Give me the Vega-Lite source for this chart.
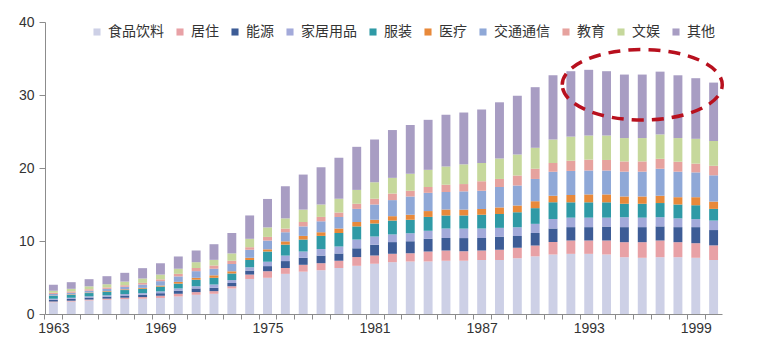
{
  "$schema": "https://vega.github.io/schema/vega-lite/v6.json",
  "width": 677,
  "height": 292,
  "autosize": {"type": "none"},
  "padding": {"left": 45, "top": 22, "right": 38, "bottom": 23},
  "background": "white",
  "config": {"view": {"stroke": null}, "font": "Liberation Sans"},
  "layer": [
    {
      "data": {"values": [
        {"year": 1963, "食品饮料": 1.6, "居住": 0.1, "能源": 0.25, "家居用品": 0.15, "服装": 0.4, "医疗": 0.05, "交通通信": 0.2, "教育": 0.15, "文娱": 0.3, "其他": 0.8},
        {"year": 1964, "食品饮料": 1.7, "居住": 0.12, "能源": 0.25, "家居用品": 0.15, "服装": 0.42, "医疗": 0.06, "交通通信": 0.2, "教育": 0.2, "文娱": 0.35, "其他": 0.91},
        {"year": 1965, "食品饮料": 1.85, "居住": 0.13, "能源": 0.27, "家居用品": 0.17, "服装": 0.45, "医疗": 0.07, "交通通信": 0.25, "教育": 0.2, "文娱": 0.4, "其他": 0.98},
        {"year": 1966, "食品饮料": 1.95, "居住": 0.15, "能源": 0.28, "家居用品": 0.18, "服装": 0.5, "医疗": 0.08, "交通通信": 0.3, "教育": 0.2, "文娱": 0.44, "其他": 1.1},
        {"year": 1967, "食品饮料": 2.05, "居住": 0.18, "能源": 0.3, "家居用品": 0.2, "服装": 0.55, "医疗": 0.1, "交通通信": 0.35, "教育": 0.21, "文娱": 0.5, "其他": 1.2},
        {"year": 1968, "食品饮料": 2.1, "居住": 0.22, "能源": 0.32, "家居用品": 0.22, "服装": 0.6, "医疗": 0.12, "交通通信": 0.45, "教育": 0.23, "文娱": 0.6, "其他": 1.42},
        {"year": 1969, "食品饮料": 2.2, "居住": 0.3, "能源": 0.35, "家居用品": 0.25, "服装": 0.65, "医疗": 0.15, "交通通信": 0.6, "教育": 0.25, "文娱": 0.65, "其他": 1.55},
        {"year": 1970, "食品饮料": 2.4, "居住": 0.37, "能源": 0.43, "家居用品": 0.3, "服装": 0.66, "医疗": 0.24, "交通通信": 0.75, "教育": 0.35, "文娱": 0.7, "其他": 1.68},
        {"year": 1971, "食品饮料": 2.63, "居住": 0.37, "能源": 0.5, "家居用品": 0.3, "服装": 0.9, "医疗": 0.26, "交通通信": 0.91, "教育": 0.43, "文娱": 0.8, "其他": 1.6},
        {"year": 1972, "食品饮料": 2.77, "居住": 0.36, "能源": 0.46, "家居用品": 0.45, "服装": 0.92, "医疗": 0.34, "交通通信": 0.9, "教育": 0.45, "文娱": 0.77, "其他": 2.14},
        {"year": 1973, "食品饮料": 3.5, "居住": 0.3, "能源": 0.45, "家居用品": 0.4, "服装": 0.9, "医疗": 0.3, "交通通信": 1.0, "教育": 0.45, "文娱": 1.0, "其他": 2.8},
        {"year": 1974, "食品饮料": 4.8, "居住": 0.6, "能源": 0.55, "家居用品": 0.45, "服装": 1.0, "医疗": 0.3, "交通通信": 1.1, "教育": 0.35, "文娱": 1.15, "其他": 3.2},
        {"year": 1975, "食品饮料": 4.96, "居住": 0.9, "能源": 0.7, "家居用品": 0.6, "服装": 1.4, "医疗": 0.3, "交通通信": 1.2, "教育": 0.5, "文娱": 1.3, "其他": 3.9},
        {"year": 1976, "食品饮料": 5.5, "居住": 0.8, "能源": 0.95, "家居用品": 0.75, "服装": 1.5, "医疗": 0.45, "交通通信": 1.25, "教育": 0.5, "文娱": 1.4, "其他": 4.4},
        {"year": 1977, "食品饮料": 5.8, "居住": 0.94, "能源": 0.96, "家居用品": 0.86, "服装": 1.64, "医疗": 0.5, "交通通信": 1.3, "教育": 0.6, "文娱": 1.7, "其他": 4.8},
        {"year": 1978, "食品饮料": 6.0, "居住": 0.96, "能源": 1.04, "家居用品": 0.9, "服装": 1.8, "医疗": 0.5, "交通通信": 1.5, "教育": 0.6, "文娱": 1.7, "其他": 5.1},
        {"year": 1979, "食品饮料": 6.3, "居住": 1.0, "能源": 1.0, "家居用品": 0.95, "服装": 1.85, "医疗": 0.6, "交通通信": 1.6, "教育": 0.6, "文娱": 1.9, "其他": 5.6},
        {"year": 1980, "食品饮料": 6.6, "居住": 1.2, "能源": 1.2, "家居用品": 1.2, "服装": 1.8, "医疗": 0.6, "交通通信": 1.8, "教育": 0.7, "文娱": 1.9, "其他": 5.9},
        {"year": 1981, "食品饮料": 6.9, "居住": 1.1, "能源": 1.5, "家居用品": 1.1, "服装": 1.8, "医疗": 0.5, "交通通信": 2.1, "教育": 0.8, "文娱": 2.25, "其他": 5.85},
        {"year": 1982, "食品饮料": 7.1, "居住": 1.15, "能源": 1.6, "家居用品": 1.05, "服装": 1.9, "医疗": 0.6, "交通通信": 2.2, "教育": 0.9, "文娱": 2.15, "其他": 6.55},
        {"year": 1983, "食品饮料": 7.2, "居住": 1.13, "能源": 1.64, "家居用品": 1.1, "服装": 1.83, "医疗": 0.7, "交通通信": 2.5, "教育": 0.8, "文娱": 2.3, "其他": 6.7},
        {"year": 1984, "食品饮料": 7.2, "居住": 1.36, "能源": 1.74, "家居用品": 1.1, "服装": 1.9, "医疗": 0.8, "交通通信": 2.5, "教育": 0.8, "文娱": 2.35, "其他": 6.85},
        {"year": 1985, "食品饮料": 7.3, "居住": 1.4, "能源": 1.7, "家居用品": 1.3, "服装": 1.8, "医疗": 0.8, "交通通信": 2.4, "教育": 1.0, "文娱": 2.5, "其他": 7.1},
        {"year": 1986, "食品饮料": 7.3, "居住": 1.3, "能源": 1.8, "家居用品": 1.3, "服装": 1.8, "医疗": 0.8, "交通通信": 2.5, "教育": 1.0, "文娱": 2.7, "其他": 7.1},
        {"year": 1987, "食品饮料": 7.4, "居住": 1.3, "能源": 1.7, "家居用品": 1.3, "服装": 1.9, "医疗": 0.8, "交通通信": 2.5, "教育": 1.3, "文娱": 2.5, "其他": 7.3},
        {"year": 1988, "食品饮料": 7.4, "居住": 1.4, "能源": 1.8, "家居用品": 1.2, "服装": 1.9, "医疗": 0.9, "交通通信": 2.8, "教育": 1.1, "文娱": 2.8, "其他": 7.7},
        {"year": 1989, "食品饮料": 7.64, "居住": 1.43, "能源": 1.63, "家居用品": 1.2, "服装": 2.05, "医疗": 0.9, "交通通信": 2.74, "教育": 1.37, "文娱": 2.88, "其他": 8.05},
        {"year": 1990, "食品饮料": 7.9, "居住": 1.48, "能源": 1.72, "家居用品": 1.25, "服装": 2.15, "医疗": 0.95, "交通通信": 3.05, "教育": 1.4, "文娱": 2.87, "其他": 8.3},
        {"year": 1991, "食品饮料": 8.15, "居住": 1.7, "能源": 1.85, "家居用品": 1.3, "服装": 2.3, "医疗": 0.9, "交通通信": 3.3, "教育": 1.2, "文娱": 3.2, "其他": 8.8},
        {"year": 1992, "食品饮料": 8.24, "居住": 1.83, "能源": 1.83, "家居用品": 1.3, "服装": 2.1, "医疗": 1.0, "交通通信": 3.3, "教育": 1.4, "文娱": 3.3, "其他": 8.96},
        {"year": 1993, "食品饮料": 8.24, "居住": 1.83, "能源": 1.83, "家居用品": 1.3, "服装": 2.1, "医疗": 1.08, "交通通信": 3.28, "教育": 1.49, "文娱": 3.3, "其他": 9.0},
        {"year": 1994, "食品饮料": 8.15, "居住": 1.92, "能源": 1.91, "家居用品": 1.22, "服装": 2.1, "医疗": 1.08, "交通通信": 3.28, "教育": 1.44, "文娱": 3.35, "其他": 8.81},
        {"year": 1995, "食品饮料": 7.78, "居住": 2.06, "能源": 2.06, "家居用品": 1.36, "服装": 1.84, "医疗": 1.0, "交通通信": 3.4, "教育": 1.4, "文娱": 3.2, "其他": 8.7},
        {"year": 1996, "食品饮料": 7.7, "居住": 2.14, "能源": 2.06, "家居用品": 1.3, "服装": 1.9, "医疗": 1.0, "交通通信": 3.4, "教育": 1.4, "文娱": 3.2, "其他": 8.7},
        {"year": 1997, "食品饮料": 7.78, "居住": 2.29, "能源": 1.93, "家居用品": 1.26, "服装": 1.94, "医疗": 1.0, "交通通信": 3.7, "教育": 1.36, "文娱": 3.34, "其他": 8.6},
        {"year": 1998, "食品饮料": 7.78, "居住": 2.06, "能源": 2.06, "家居用品": 1.2, "服装": 1.9, "医疗": 1.0, "交通通信": 3.5, "教育": 1.36, "文娱": 3.24, "其他": 8.6},
        {"year": 1999, "食品饮料": 7.7, "居住": 2.0, "能源": 2.2, "家居用品": 1.1, "服装": 1.9, "医疗": 1.1, "交通通信": 3.4, "教育": 1.2, "文娱": 3.4, "其他": 8.3},
        {"year": 2000, "食品饮料": 7.4, "居住": 2.0, "能源": 2.1, "家居用品": 1.3, "服装": 1.6, "医疗": 1.0, "交通通信": 3.6, "教育": 1.3, "文娱": 3.4, "其他": 8.0}
      ]},
      "transform": [
        {"fold": ["食品饮料", "居住", "能源", "家居用品", "服装", "医疗", "交通通信", "教育", "文娱", "其他"], "as": ["类别", "支出"]},
        {"calculate": "indexof(['食品饮料', '居住', '能源', '家居用品', '服装', '医疗', '交通通信', '教育', '文娱', '其他'], datum['类别'])", "as": "序"}
      ],
      "mark": {"type": "bar"},
      "encoding": {
        "x": {
          "field": "year", "type": "ordinal",
          "scale": {"paddingInner": 0.5, "paddingOuter": 0.22},
          "axis": {
            "title": null, "labelAngle": 0, "labelOverlap": false,
            "labelExpr": "(datum.value - 1963) % 6 === 0 ? datum.label : ''",
            "tickOffset": -8.92, "labelOffset": 8.92, "tickSize": 5,
            "domainColor": "#8c8c8c", "tickColor": "#8c8c8c",
            "labelFontSize": 14, "labelColor": "#333333", "labelPadding": 2,
            "labelFont": "Liberation Sans"
          }
        },
        "y": {
          "field": "支出", "type": "quantitative", "stack": "zero",
          "scale": {"domain": [0, 40], "nice": false},
          "axis": {
            "title": null, "values": [0, 5, 10, 15, 20, 25, 30, 35, 40], "grid": false,
            "tickSize": 6, "labelPadding": 5, "labelFontSize": 14, "labelColor": "#333333",
            "labelFont": "Liberation Sans", "domainColor": "#8c8c8c", "tickColor": "#8c8c8c"
          }
        },
        "order": {"field": "序", "type": "quantitative", "sort": "ascending"},
        "color": {
          "field": "类别", "type": "nominal",
          "sort": ["食品饮料", "居住", "能源", "家居用品", "服装", "医疗", "交通通信", "教育", "文娱", "其他"],
          "scale": {
            "domain": ["食品饮料", "居住", "能源", "家居用品", "服装", "医疗", "交通通信", "教育", "文娱", "其他"],
            "range": ["#cdd0e6", "#e8a1a6", "#3d5c96", "#a3aada", "#2f9aa6", "#e8893a", "#8fa8d7", "#e6a29e", "#c6d89c", "#a89dc3"]
          },
          "legend": {
            "title": null, "orient": "none", "legendX": 45, "legendY": 3,
            "direction": "horizontal", "symbolType": "square", "symbolSize": 50,
            "symbolStrokeWidth": 0, "labelFont": "Noto Sans CJK SC", "labelFontSize": 14,
            "labelColor": "#333333", "columnPadding": 9, "labelOffset": 4
          }
        }
      }
    },
    {
      "data": {"values": [{"year": 1996, "v": 31.4}]},
      "mark": {
        "type": "point",
        "shape": "M-1,0A1,0.44,0,1,1,1,0A1,0.44,0,1,1,-1,0Z",
        "size": 25600, "filled": false, "fill": null,
        "stroke": "#b8101e", "strokeWidth": 3.5, "strokeDash": [12, 8], "opacity": 1
      },
      "encoding": {
        "x": {"field": "year", "type": "ordinal"},
        "y": {"field": "v", "type": "quantitative"}
      }
    }
  ]
}
